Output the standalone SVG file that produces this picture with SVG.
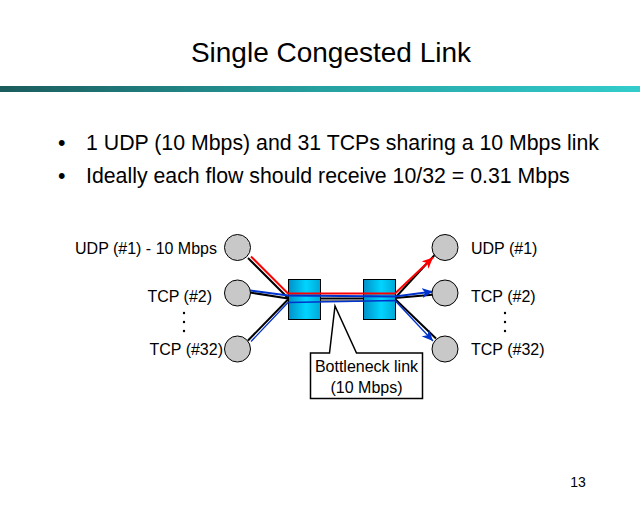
<svg xmlns="http://www.w3.org/2000/svg" width="640" height="512" viewBox="0 0 640 512">
<style>
text{font-family:"Liberation Sans",Arial,sans-serif;fill:#000}
.t{font-size:16px}
.bl{font-size:21.3px}
.n{fill:#c8c8c8;stroke:#000;stroke-width:1}
.bx{fill:url(#bg);stroke:#000;stroke-width:1}
.k{stroke:#000;stroke-width:2;fill:none}
.r{stroke:#ff0000;stroke-width:2;fill:none}
.b{stroke:#0033cc;stroke-width:2;fill:none}
.b1{stroke:#0033cc;stroke-width:1.3;fill:none}
</style>
<defs>
<linearGradient id="bar" x1="0" y1="0" x2="1" y2="0">
<stop offset="0" stop-color="#1b5c5c"/>
<stop offset="0.5" stop-color="#26a0a0"/>
<stop offset="1" stop-color="#33cccc"/>
</linearGradient>
<linearGradient id="bg" x1="0" y1="0" x2="1" y2="0">
<stop offset="0" stop-color="#0090c8"/>
<stop offset="0.55" stop-color="#00d4ff"/>
<stop offset="1" stop-color="#00a8d8"/>
</linearGradient>
<marker id="ar" markerUnits="userSpaceOnUse" markerWidth="12" markerHeight="10" refX="11" refY="5" orient="auto">
<path d="M0,0 L11,5 L0,10 L3,5 Z" fill="#ff0000"/>
</marker>
<marker id="ab" markerUnits="userSpaceOnUse" markerWidth="12" markerHeight="10" refX="11" refY="5" orient="auto">
<path d="M0,0 L11,5 L0,10 L3,5 Z" fill="#0033cc"/>
</marker>
</defs>
<rect width="640" height="512" fill="#fff"/>
<text x="331" y="62" font-size="28" text-anchor="middle">Single Congested Link</text>
<rect x="0" y="86" width="640" height="6" fill="url(#bar)"/>
<text class="bl" x="58" y="150">•</text>
<text class="bl" x="86" y="150">1 UDP (10 Mbps) and 31 TCPs sharing a 10 Mbps link</text>
<text class="bl" x="58" y="183">•</text>
<text class="bl" x="86" y="183">Ideally each flow should receive 10/32 = 0.31 Mbps</text>

<g id="connectors">
<path class="k" d="M248,258 L288,298"/>
<path class="k" d="M250,292.5 L288,298.5"/>
<path class="k" d="M248,340.5 L288,299.5"/>
<path class="k" d="M288,298.5 L395,298.5"/>
<path stroke="#000" stroke-width="1" d="M320,301 L363,301"/>
<path class="k" d="M395,298 L436,253.5"/>
<path class="k" d="M395,298 L435,294.5"/>
<path class="k" d="M395,299 L436,338.5"/>
</g>

<g id="router-left"><rect class="bx" x="288.5" y="279.5" width="32" height="40"/></g>
<g id="router-right"><rect class="bx" x="363.5" y="279.5" width="32" height="40"/></g>

<g id="flows">
<path class="r" d="M251,256.5 L288,293.5 L395,293.5 L433,257.5" marker-end="url(#ar)"/>
<path class="b" d="M250,290.5 L288,295.5 L395,296.5 L433,291.5" marker-end="url(#ab)"/>
<path class="b1" d="M251,341.5 L288,302.5 L395,300.5 L433,341" marker-end="url(#ab)"/>
</g>

<g id="node-udp1-src"><circle class="n" cx="237.5" cy="247.5" r="13"/><text class="t" x="217" y="254" text-anchor="end">UDP (#1) - 10 Mbps</text></g>
<g id="node-tcp2-src"><circle class="n" cx="237.5" cy="293" r="13"/><text class="t" x="212" y="302" text-anchor="end">TCP (#2)</text></g>
<g id="node-tcp32-src"><circle class="n" cx="237.5" cy="349" r="13"/><text class="t" x="223" y="355" text-anchor="end">TCP (#32)</text></g>
<g id="dots-left"><circle cx="184" cy="313" r="1.2"/><circle cx="184" cy="322" r="1.2"/><circle cx="184" cy="331" r="1.2"/></g>

<g id="node-udp1-dst"><circle class="n" cx="445" cy="247.5" r="13"/><text class="t" x="471" y="254">UDP (#1)</text></g>
<g id="node-tcp2-dst"><circle class="n" cx="445" cy="293" r="13"/><text class="t" x="471" y="302">TCP (#2)</text></g>
<g id="node-tcp32-dst"><circle class="n" cx="445" cy="349" r="13"/><text class="t" x="471" y="355">TCP (#32)</text></g>
<g id="dots-right"><circle cx="505" cy="313" r="1.2"/><circle cx="505" cy="322" r="1.2"/><circle cx="505" cy="331" r="1.2"/></g>

<g id="callout">
<path d="M310.5,353 L329.5,353 L335,306 L356.5,353 L422.5,353 L422.5,398.5 L310.5,398.5 Z" fill="#fff" stroke="#000" stroke-width="1.5"/>
<text class="t" x="366.5" y="372" text-anchor="middle">Bottleneck link</text>
<text class="t" x="366.5" y="393" text-anchor="middle">(10 Mbps)</text>
</g>
<text x="578" y="487" font-size="14" text-anchor="middle">13</text>
</svg>
